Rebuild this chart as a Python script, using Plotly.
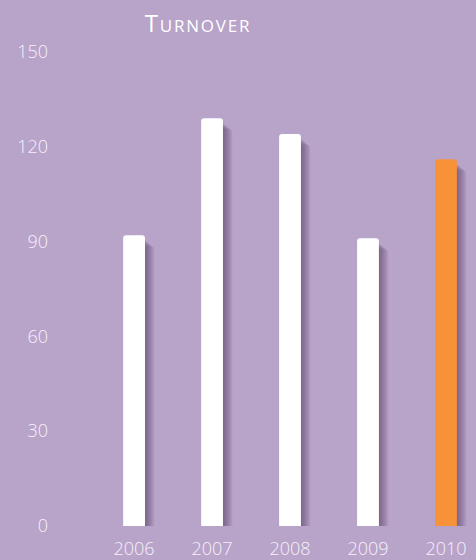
import plotly.graph_objects as go

# Turnover by year
years = ["2006", "2007", "2008", "2009", "2010"]
turnover = [92, 129, 124, 91, 116]
bar_colors = ["#ffffff", "#ffffff", "#ffffff", "#ffffff", "#f79238"]
y_ticks = [0, 30, 60, 90, 120, 150]

BG = "#b8a3c9"
TEXT = "#f6f1fa"
BAR_W = 0.28
FONT = "Open Sans"

fig = go.Figure()

# soft drop shadow: stacked translucent layers shifted right and down
for k in range(7, 0, -1):
    shift = 0.017 * k
    drop = 1.0 + 0.35 * k
    fig.add_trace(go.Bar(
        x=years,
        y=turnover,
        base=[-drop] * len(turnover),
        width=BAR_W,
        offset=-BAR_W / 2 + shift,
        marker=dict(color="rgba(70,50,85,0.085)", line=dict(width=0), cornerradius=4),
        hoverinfo="skip",
        showlegend=False,
    ))

fig.add_trace(go.Bar(
    x=years,
    y=turnover,
    width=BAR_W,
    offset=-BAR_W / 2,
    marker=dict(color=bar_colors, line=dict(width=0), cornerradius=3),
    showlegend=False,
))

fig.update_layout(
    width=476,
    height=560,
    paper_bgcolor=BG,
    plot_bgcolor=BG,
    barmode="overlay",
    margin=dict(l=60, r=0, t=36, b=34),
    title=dict(
        text="<span style='letter-spacing:1.8px'>Turnover</span>",
        x=198 / 476,
        xanchor="center",
        y=1 - 24 / 560,
        yanchor="middle",
        font=dict(family=FONT, size=24, color="#ffffff", weight=500, variant="small-caps"),
    ),
    xaxis=dict(
        type="category",
        range=[-0.95, 4.385],
        showgrid=False,
        zeroline=False,
        showline=False,
        ticks="",
        ticklabelstandoff=10,
        tickfont=dict(family=FONT, size=18, color=TEXT, weight=300),
    ),
    yaxis=dict(
        range=[0, 155],
        tickvals=y_ticks,
        showgrid=False,
        zeroline=False,
        showline=False,
        ticks="",
        ticklabelstandoff=11,
        tickfont=dict(family=FONT, size=18, color=TEXT, weight=300),
    ),
)

fig.write_html("out.html")
